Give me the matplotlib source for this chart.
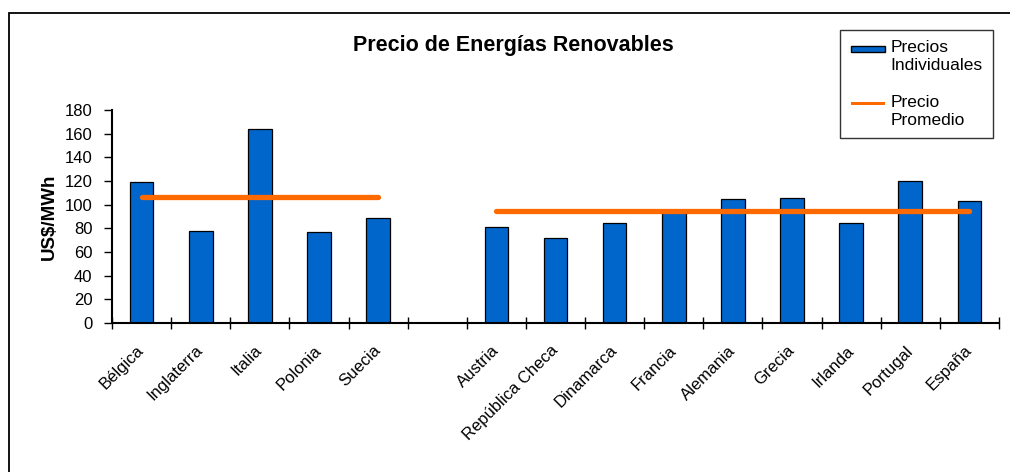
import numpy as np
import matplotlib
matplotlib.use("Agg")
import matplotlib.pyplot as plt
from matplotlib.patches import Rectangle
from matplotlib.legend_handler import HandlerPatch

plt.rcParams['font.family'] = ['Liberation Sans', 'DejaVu Sans']

# Datos (US$/MWh)
grupo1 = ['Bélgica', 'Inglaterra', 'Italia', 'Polonia', 'Suecia']
precios1 = [119, 78, 164, 77, 89]
promedio1 = 106.5

grupo2 = ['Austria', 'República Checa', 'Dinamarca', 'Francia', 'Alemania',
          'Grecia', 'Irlanda', 'Portugal', 'España']
precios2 = [81, 72, 84.5, 94, 105, 106, 84.5, 120, 103.5]
promedio2 = 94.3

yticks = list(range(0, 181, 20))

azul = '#0066CC'
naranja = '#FF6A00'

fig = plt.figure(figsize=(10.1, 4.72), dpi=100)
ax = fig.add_axes([112/1010, 1 - 323/472, (999 - 112)/1010, (323 - 110)/472])

# posiciones: grupo 1, un hueco, grupo 2
x1 = np.arange(len(grupo1))
x2 = np.arange(len(grupo2)) + len(grupo1) + 1
n = len(grupo1) + 1 + len(grupo2)

ax.bar(x1, precios1, width=0.4, color=azul, edgecolor='black', linewidth=0.9, zorder=2)
ax.bar(x2, precios2, width=0.4, color=azul, edgecolor='black', linewidth=0.9, zorder=2)
ax.plot([x1[0], x1[-1]], [promedio1] * 2, color=naranja, lw=3.8,
        solid_capstyle='round', zorder=3)
ax.plot([x2[0], x2[-1]], [promedio2] * 2, color=naranja, lw=3.8,
        solid_capstyle='round', zorder=3)

ax.set_xlim(-0.5, n - 0.5)
ax.set_ylim(0, 180)
ax.set_yticks(yticks)

ax.set_xticks(list(x1) + list(x2))
ax.set_xticklabels(grupo1 + grupo2, rotation=45, ha='right', va='center',
                   rotation_mode='anchor', fontsize=12)
ax.set_xticks(np.arange(n + 1) - 0.5, minor=True)
ax.tick_params(axis='x', which='major', length=0, pad=18)
ax.tick_params(axis='x', which='minor', direction='inout', length=8, width=1)
ax.tick_params(axis='y', direction='out', length=6, width=1, labelsize=12, pad=8)

for s in ['top', 'right']:
    ax.spines[s].set_visible(False)
ax.spines['left'].set_linewidth(1.5)
ax.spines['bottom'].set_linewidth(1.5)

ax.set_ylabel('US$/MWh', fontsize=13.5, fontweight='bold', labelpad=5)
fig.text(513/1010, 1 - 45/472, 'Precio de Energías Renovables', ha='center', va='center',
         fontsize=15.5, fontweight='bold')


# manijas de la leyenda alineadas con la primera línea del texto
def barra_leyenda(legend, orig_handle, xdescent, ydescent, width, height, fontsize):
    return Rectangle((-xdescent, -ydescent + 0.62 * fontsize), width, 0.36 * fontsize)


def linea_leyenda(legend, orig_handle, xdescent, ydescent, width, height, fontsize):
    return Rectangle((-xdescent, -ydescent + 0.72 * fontsize), width, 0.17 * fontsize)


h_barra = Rectangle((0, 0), 1, 1, facecolor=azul, edgecolor='black', linewidth=1)
h_linea = Rectangle((0, 0), 1, 1, facecolor=naranja, edgecolor='none')

leg = fig.legend([h_barra, h_linea], ['Precios\nIndividuales', 'Precio\nPromedio'],
                 loc='upper right', bbox_to_anchor=(993/1010, 1 - 30/472),
                 fontsize=12.5, fancybox=False, frameon=True, labelspacing=1.3,
                 handlelength=2.0, handletextpad=0.3, borderpad=0.6, borderaxespad=0,
                 handler_map={h_barra: HandlerPatch(patch_func=barra_leyenda),
                              h_linea: HandlerPatch(patch_func=linea_leyenda)})
leg.get_frame().set_edgecolor('black')
leg.get_frame().set_linewidth(1)

# marco exterior del gráfico
fig.patches.append(Rectangle((9/1010, -0.1), 1.2, 1 - 13/472 + 0.1, transform=fig.transFigure,
                             fill=False, edgecolor='black', linewidth=1.3))

fig.savefig('out.png', dpi=100)
